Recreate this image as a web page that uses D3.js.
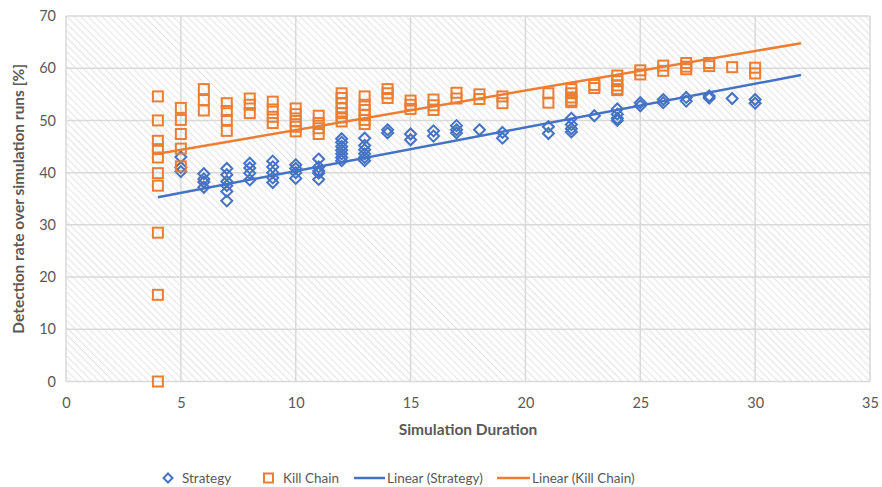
<!DOCTYPE html>
<html>
<head>
<meta charset="utf-8">
<script src="https://cdn.jsdelivr.net/npm/d3@7"></script>
<style>
  html, body { margin: 0; padding: 0; background: #fff; }
  svg { display: block; font-family: Lato, "Open Sans", "Liberation Sans", sans-serif; }
</style>
</head>
<body>
<svg id="chart" width="882" height="487"></svg>
<script>
// Simulation durations and detection rates (%) per run
const strategyX = [
  5,5,5,
  6,6,6,6,
  7,7,7,7,7,7,
  8,8,8,8,
  9,9,9,9,9,
  10,10,10,10,
  11,11,11,11,11,
  12,12,12,12,12,12,12,
  13,13,13,13,13,13,
  14,14,
  15,15,
  16,16,
  17,17,17,
  18,
  19,19,
  21,21,
  22,22,22,22,
  23,
  24,24,24,24,
  25,25,
  26,26,
  27,27,
  28,28,
  29,
  30,30
];
const strategyY = [
  43.0,41.0,40.2,
  39.8,38.8,38.2,37.2,
  40.8,39.6,38.3,37.5,36.4,34.6,
  41.8,40.9,39.9,38.6,
  42.2,41.1,40.0,39.0,38.1,
  41.5,40.8,40.0,38.9,
  42.6,41.1,40.3,39.9,38.7,
  46.5,45.8,45.0,44.3,43.6,42.9,42.3,
  46.6,45.2,44.4,43.6,42.9,42.3,
  48.2,47.6,
  47.4,46.3,
  48.0,47.0,
  49.0,48.2,47.6,
  48.2,
  47.7,46.6,
  48.8,47.5,
  50.4,49.2,48.4,47.8,
  50.9,
  52.2,51.2,50.4,50.0,
  53.4,52.8,
  54.0,53.4,
  54.4,53.7,
  54.7,54.3,
  54.2,
  54.0,53.3
];

const killChainX = [
  4,4,4,4,4,4,4,4,4,4,
  5,5,5,5,5,
  6,6,6,
  7,7,7,7,
  8,8,8,
  9,9,9,9,
  10,10,10,10,10,
  11,11,11,11,
  12,12,12,12,12,12,12,
  13,13,13,13,13,13,
  14,14,14,
  15,15,15,
  16,16,16,
  17,17,
  18,18,
  19,19,
  21,21,
  22,22,22,22,22,
  23,23,
  24,24,24,24,24,
  25,25,
  26,26,
  27,27,27,
  28,28,
  29,
  30,30
];
const killChainY = [
  54.6,50.0,46.1,44.5,42.9,39.9,37.5,28.5,16.6,0,
  52.4,50.1,47.4,44.6,41.2,
  56.0,53.9,51.9,
  53.3,51.8,50.1,48.0,
  54.2,53.0,51.4,
  53.6,52.1,50.7,49.5,
  52.3,51.2,49.9,48.8,47.9,
  50.9,49.5,48.5,47.4,
  55.2,54.3,53.3,52.3,51.4,50.6,49.8,
  54.6,53.0,52.0,51.0,50.1,49.3,
  56.0,55.2,54.3,
  53.8,53.0,52.2,
  54.0,52.9,52.0,
  55.3,54.2,
  55.0,54.1,
  54.6,53.3,
  55.2,53.4,
  56.0,55.2,54.4,53.8,53.5,
  56.8,56.2,
  58.6,57.5,56.7,56.0,55.8,
  59.6,58.8,
  60.5,59.5,
  61.0,60.3,59.8,
  61.0,60.4,
  60.2,
  60.1,59.0
];

// Linear trend lines (start and end of each fit)
const trendX = [4, 32];
const trendStrategyY = [35.3, 58.7];
const trendKillChainY = [43.6, 64.8];

const xTicks = [0, 5, 10, 15, 20, 25, 30, 35];
const yTicks = [0, 10, 20, 30, 40, 50, 60, 70];
const legendLabels = ["Strategy", "Kill Chain", "Linear (Strategy)", "Linear (Kill Chain)"];

const BLUE = "#4472C4", ORANGE = "#ED7D31", GRID = "#d9d9d9", TEXT = "#595959";

const svg = d3.select("#chart");
const plot = { left: 66, right: 870, top: 16, bottom: 381.5 };

const x = d3.scaleLinear().domain([0, 35]).range([plot.left, plot.right]);
const y = d3.scaleLinear().domain([0, 70]).range([plot.bottom, plot.top]);

// Diagonal hatch fill for the plot area (lines running top-left to bottom-right)
const defs = svg.append("defs");
const pat = defs.append("pattern")
  .attr("id", "hatch")
  .attr("patternUnits", "userSpaceOnUse")
  .attr("width", 5).attr("height", 5)
  .attr("patternTransform", "rotate(-45)");
pat.append("rect").attr("width", 5).attr("height", 5).attr("fill", "#fff");
pat.append("line").attr("x1", 0).attr("y1", 0).attr("x2", 0).attr("y2", 5)
  .attr("stroke", "#d6d6d6").attr("stroke-width", 1.3);

svg.append("rect")
  .attr("x", plot.left).attr("y", plot.top)
  .attr("width", plot.right - plot.left).attr("height", plot.bottom - plot.top)
  .attr("fill", "url(#hatch)");

// Gridlines
const grid = svg.append("g");
grid.selectAll("line.h").data(yTicks).join("line")
  .attr("class", "h")
  .attr("x1", plot.left).attr("x2", plot.right)
  .attr("y1", d => y(d)).attr("y2", d => y(d))
  .attr("stroke", GRID).attr("stroke-width", 1.5);
grid.selectAll("line.v").data(xTicks).join("line")
  .attr("class", "v")
  .attr("y1", plot.top).attr("y2", plot.bottom)
  .attr("x1", d => x(d)).attr("x2", d => x(d))
  .attr("stroke", GRID).attr("stroke-width", 1.5);

// Axes (labels only; gridlines drawn above)
const xAxis = svg.append("g")
  .attr("transform", `translate(0,${plot.bottom})`)
  .call(d3.axisBottom(x).tickValues(xTicks).tickSize(0).tickPadding(16));
const yAxis = svg.append("g")
  .attr("transform", `translate(${plot.left},0)`)
  .call(d3.axisLeft(y).tickValues(yTicks).tickSize(0).tickPadding(10));
[xAxis, yAxis].forEach(a => {
  a.select(".domain").remove();
  a.selectAll("text").attr("fill", TEXT).style("font-size", "14.5px")
    .style("font-family", "Lato, 'Open Sans', sans-serif");
});

// Axis titles
svg.append("text")
  .attr("x", (plot.left + plot.right) / 2).attr("y", 435)
  .attr("text-anchor", "middle").attr("fill", TEXT)
  .style("font-size", "15.5px").style("font-weight", "bold")
  .text("Simulation Duration");
svg.append("text")
  .attr("transform", `translate(24,${(plot.top + plot.bottom) / 2}) rotate(-90)`)
  .attr("text-anchor", "middle").attr("fill", TEXT)
  .style("font-size", "15.5px").style("font-weight", "bold")
  .text("Detection rate over simulation runs [%]");

// Marker shapes
const diamondPath = s => `M0,${-s}L${s},0L0,${s}L${-s},0Z`;

const strategyPts = strategyX.map((d, i) => [d, strategyY[i]]);
const killPts = killChainX.map((d, i) => [d, killChainY[i]]);

svg.append("g").selectAll("path").data(strategyPts).join("path")
  .attr("d", diamondPath(5.5))
  .attr("transform", d => `translate(${x(d[0])},${y(d[1])})`)
  .attr("fill", "none").attr("stroke", BLUE).attr("stroke-width", 2);

svg.append("g").selectAll("rect").data(killPts).join("rect")
  .attr("x", d => x(d[0]) - 5).attr("y", d => y(d[1]) - 5)
  .attr("width", 10).attr("height", 10)
  .attr("fill", "none").attr("stroke", ORANGE).attr("stroke-width", 2);

// Trend lines
const line = d3.line().x(d => x(d[0])).y(d => y(d[1]));
svg.append("path")
  .datum(trendX.map((d, i) => [d, trendStrategyY[i]]))
  .attr("d", line).attr("fill", "none").attr("stroke", BLUE).attr("stroke-width", 2.5);
svg.append("path")
  .datum(trendX.map((d, i) => [d, trendKillChainY[i]]))
  .attr("d", line).attr("fill", "none").attr("stroke", ORANGE).attr("stroke-width", 2.5);

// Legend
const ly = 478;
const legend = svg.append("g");
legend.append("path").attr("d", diamondPath(4.5))
  .attr("transform", `translate(168,${ly})`)
  .attr("fill", "none").attr("stroke", BLUE).attr("stroke-width", 2);
legend.append("rect").attr("x", 264).attr("y", ly - 4.5).attr("width", 9).attr("height", 9)
  .attr("fill", "none").attr("stroke", ORANGE).attr("stroke-width", 2);
legend.append("line").attr("x1", 354).attr("x2", 385).attr("y1", ly).attr("y2", ly)
  .attr("stroke", BLUE).attr("stroke-width", 2.5);
legend.append("line").attr("x1", 497).attr("x2", 530).attr("y1", ly).attr("y2", ly)
  .attr("stroke", ORANGE).attr("stroke-width", 2.5);
const lx = [182, 283, 387, 532];
legend.selectAll("text").data(legendLabels).join("text")
  .attr("x", (d, i) => lx[i]).attr("y", ly + 5)
  .attr("fill", TEXT).style("font-size", "13.5px")
  .text(d => d);
</script>
</body>
</html>
